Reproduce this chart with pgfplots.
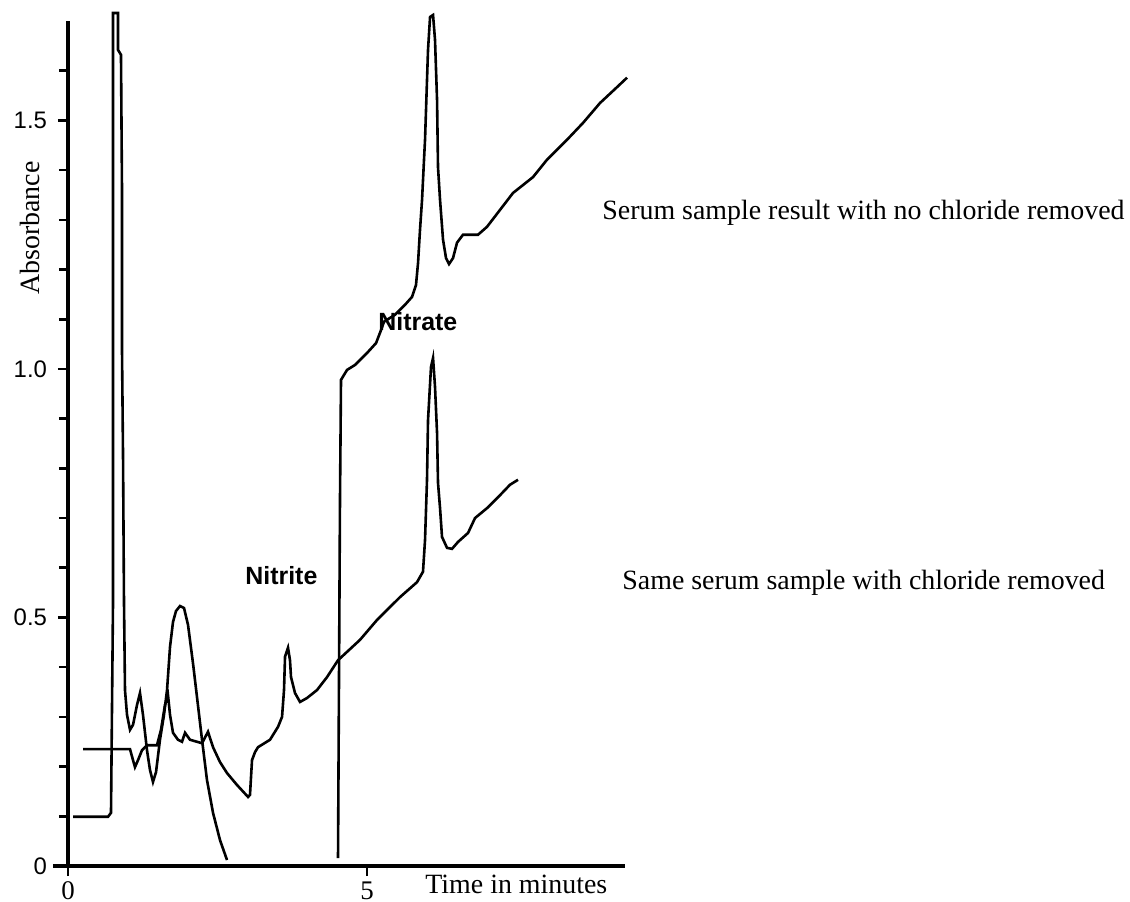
\documentclass[border=0pt]{standalone}
\usepackage{fontspec}
\setmainfont{Liberation Serif}
\newfontfamily\sansf{Liberation Sans}
\usepackage{pgfplots}
\pgfplotsset{compat=1.18}
\usepackage{pgfplotstable}

\pgfplotstableread{
x y
0.084 0.099
0.669 0.099
0.719 0.107
0.753 0.535
0.753 1.716
0.836 1.716
0.836 1.642
0.886 1.632
0.903 1.360
0.903 1.038
0.920 0.827
0.936 0.535
0.953 0.354
0.987 0.304
1.037 0.274
1.087 0.284
1.154 0.324
1.204 0.348
1.254 0.304
1.321 0.233
1.371 0.193
1.421 0.169
1.472 0.189
1.538 0.254
1.605 0.304
1.656 0.354
1.706 0.441
1.756 0.491
1.806 0.513
1.873 0.523
1.940 0.519
2.007 0.485
2.090 0.408
2.157 0.340
2.241 0.254
2.324 0.173
2.425 0.107
2.542 0.052
2.659 0.012
2.700 nan
4.515 0.016
4.548 0.736
4.565 0.978
4.666 0.998
4.799 1.008
5.000 1.032
5.151 1.052
5.234 1.078
5.284 1.095
5.468 1.109
5.635 1.129
5.753 1.145
5.819 1.169
5.853 1.213
5.886 1.280
5.920 1.340
5.953 1.421
5.970 1.461
6.003 1.581
6.020 1.642
6.054 1.708
6.104 1.712
6.137 1.662
6.171 1.541
6.187 1.406
6.221 1.340
6.271 1.260
6.321 1.223
6.371 1.211
6.438 1.223
6.505 1.254
6.605 1.270
6.856 1.270
7.007 1.286
7.224 1.320
7.441 1.354
7.776 1.386
8.010 1.421
8.344 1.461
8.612 1.495
8.896 1.535
9.181 1.567
9.348 1.586
}\traceA

\pgfplotstableread{
x y
0.251 0.235
1.037 0.235
1.087 0.213
1.120 0.199
1.171 0.213
1.237 0.233
1.321 0.243
1.488 0.243
1.555 0.274
1.622 0.324
1.672 0.344
1.706 0.304
1.756 0.268
1.839 0.254
1.906 0.250
1.957 0.268
2.040 0.254
2.241 0.247
2.341 0.270
2.425 0.239
2.542 0.209
2.659 0.187
2.826 0.163
3.010 0.139
3.043 0.143
3.077 0.213
3.127 0.229
3.177 0.239
3.378 0.254
3.512 0.280
3.579 0.300
3.612 0.354
3.629 0.421
3.679 0.439
3.712 0.414
3.729 0.380
3.796 0.348
3.880 0.330
3.997 0.338
4.164 0.354
4.331 0.380
4.515 0.414
4.883 0.455
5.167 0.495
5.552 0.541
5.836 0.571
5.936 0.592
5.970 0.656
6.003 0.777
6.020 0.897
6.070 1.004
6.104 1.022
6.137 0.964
6.171 0.871
6.187 0.771
6.221 0.720
6.254 0.662
6.338 0.640
6.421 0.638
6.522 0.652
6.689 0.670
6.806 0.700
7.007 0.720
7.224 0.746
7.391 0.767
7.525 0.777
}\traceB

\begin{document}
\begin{tikzpicture}
\useasboundingbox (0,0) rectangle (565bp,451bp);
\begin{axis}[
  at={(34bp,18bp)}, anchor=south west,
  scale only axis, width=278.5bp, height=422.5bp,
  xmin=0, xmax=9.314, ymin=0, ymax=1.70,
  axis lines*=left,
  axis line style={line width=1.6bp},
  x axis line style={shorten <=-7.5bp},
  clip=false,
  unbounded coords=jump,
  xtick={0,5}, xticklabels={0,5},
  ytick={0,0.5,1,1.5}, yticklabels={0,0.5,1.0,1.5},
  minor ytick={0.1,0.2,0.3,0.4,0.6,0.7,0.8,0.9,1.1,1.2,1.3,1.4,1.6},
  tick align=outside,
  major tick length=5bp, minor tick length=4.5bp,
  every tick/.style={black, line width=1.3bp},
  xticklabel style={font=\fontsize{13.5}{15}\selectfont, inner sep=0pt, yshift=-2.5bp},
  yticklabel style={font=\sansf\fontsize{12}{14}\selectfont, xshift=-2bp},
]
\addplot[black, line width=1.3bp] table {\traceA};
\addplot[black, line width=1.3bp] table {\traceB};
\end{axis}
\node[anchor=west, inner sep=0, font=\fontsize{14}{16}\selectfont] at (301bp,344.5bp) {Serum sample result with no chloride removed};
\node[anchor=west, inner sep=0, font=\fontsize{14}{16}\selectfont] at (311bp,159.5bp) {Same serum sample with chloride removed};
\node[anchor=west, inner sep=0, font=\sansf\bfseries\fontsize{12.5}{14}\selectfont] at (122.5bp,163bp) {Nitrite};
\node[anchor=west, inner sep=0, font=\sansf\bfseries\fontsize{12.5}{14}\selectfont] at (189bp,290bp) {Nitrate};
\node[rotate=90, inner sep=0, font=\fontsize{14}{16}\selectfont] at (15bp,337bp) {Absorbance};
\node[anchor=base west, inner sep=0, font=\fontsize{14}{16}\selectfont] at (212.5bp,4.5bp) {Time in minutes};
\end{tikzpicture}
\end{document}
